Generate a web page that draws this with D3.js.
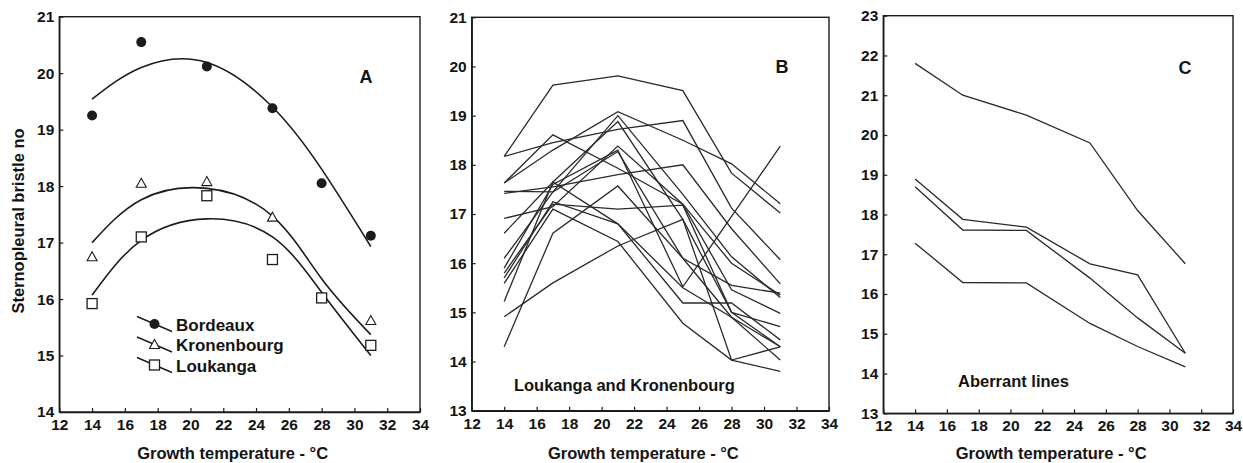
<!DOCTYPE html>
<html>
<head>
<meta charset="utf-8">
<script src="https://cdn.jsdelivr.net/npm/d3@7"></script>
<style>
  body { margin: 0; background: #fff; }
  svg text { font-family: "Liberation Sans", Arial, sans-serif; font-weight: bold; fill: #141414; }
</style>
</head>
<body>
<svg id="chart" width="1243" height="463"></svg>
<script>
// growth temperatures (°C)
const temps = [14, 17, 21, 25, 28, 31];
const xTicks = [12, 14, 16, 18, 20, 22, 24, 26, 28, 30, 32, 34];

// panel A - means per population (null = no point drawn)
const bordeaux = [19.25, 20.55, 20.12, 19.38, 18.05, 17.12];
const kronenbourg = [16.75, 18.05, 18.08, 17.45, null, 15.62];
const loukanga = [15.92, 17.1, 17.83, 16.7, 16.02, 15.18];
// fitted curves at the same temperatures
const bordeauxFit = [19.54, 20.1, 20.19, 19.4, 18.3, 16.93];
const kronenbourgFit = [17.0, 17.76, 17.96, 17.47, 16.36, 15.37];
const loukangaFit = [16.07, 17.04, 17.42, 17.1, 16.12, 15.0];

// panel B - Loukanga and Kronenbourg lines
const linesB = [
    [18.17, 19.62, 19.81, 19.51, 17.83, 17.02],
    [18.17, 18.45, 18.72, 18.9, 17.12, 16.07],
    [17.63, 18.61, 17.93, 17.2, 16.0, 15.35],
    [17.63, 18.3, 19.08, 18.5, 18.02, 17.21],
    [17.46, 17.45, 19.0, 17.4, 16.13, 15.3],
    [17.42, 17.55, 17.8, 18.0, 16.7, 15.58],
    [16.91, 17.15, 18.38, 17.2, 15.46, 14.98],
    [16.61, 17.65, 18.88, 16.89, 15.0, 14.3],
    [16.1, 17.45, 18.27, 16.1, 15.55, 15.39],
    [15.9, 17.6, 18.3, 15.52, 16.95, 18.38],
    [15.8, 17.2, 17.1, 17.18, 15.0, 14.71],
    [15.7, 17.25, 16.8, 15.19, 15.19, 14.44],
    [15.59, 17.1, 16.44, 14.78, 14.03, 13.8],
    [15.22, 17.65, 16.8, 15.5, 14.9, 14.3],
    [14.91, 15.6, 16.35, 16.89, 14.03, 14.3],
    [14.3, 16.61, 17.57, 16.1, 14.9, 14.03]
];

// panel C - aberrant lines
const linesC = [
    [21.8, 21.0, 20.5, 19.8, 18.1, 16.76],
    [18.89, 17.88, 17.68, 16.76, 16.48, 14.51],
    [18.7, 17.61, 17.6, 16.4, 15.4, 14.51],
    [17.28, 16.29, 16.28, 15.26, 14.68, 14.17]
];

const svg = d3.select("#chart");
const ink = "#1c1c1c";

function makePanel(p) {
    const x = d3.scaleLinear().domain([12, 34]).range([p.left, p.right]);
    const y = d3.scaleLinear().domain(p.ydom).range([p.bottom, p.top]);
    const g = svg.append("g");

    g.append("rect")
        .attr("x", p.left).attr("y", p.top)
        .attr("width", p.right - p.left).attr("height", p.bottom - p.top)
        .attr("fill", "none").attr("stroke", ink).attr("stroke-width", 1.4);

    const xa = g.append("g")
        .attr("transform", `translate(0, ${p.bottom})`)
        .call(d3.axisBottom(x).tickValues(xTicks).tickSizeInner(-4).tickSizeOuter(0).tickPadding(7));
    const ya = g.append("g")
        .attr("transform", `translate(${p.left}, 0)`)
        .call(d3.axisLeft(y).ticks(p.ydom[1] - p.ydom[0]).tickFormat(d3.format("d")).tickSizeInner(-4).tickSizeOuter(0).tickPadding(5));
    [xa, ya].forEach(a => {
        a.attr("font-family", null).attr("font-size", null);
        a.select(".domain").attr("stroke", ink).attr("stroke-width", 1.4);
        a.selectAll(".tick line").attr("stroke", ink).attr("stroke-width", 1.2);
        a.selectAll(".tick text").attr("fill", ink)
            .style("font-size", "15.5px")
            .style("font-family", "'Liberation Sans', Arial, sans-serif")
            .style("font-weight", "bold");
    });

    g.append("text")
        .attr("x", (p.left + p.right) / 2 - 7).attr("y", 459)
        .attr("text-anchor", "middle").attr("font-size", 16.5)
        .text("Growth temperature - °C");

    g.append("text")
        .attr("x", p.tag[0]).attr("y", p.tag[1])
        .attr("text-anchor", "middle").attr("font-size", 18)
        .text(p.label);

    return {g, x, y};
}

// ---------- panel A ----------
const A = makePanel({left: 59.3, right: 420, top: 16.7, bottom: 412, ydom: [14, 21], label: "A", tag: [366, 83]});

svg.append("text")
    .attr("transform", `translate(24, 221) rotate(-90)`)
    .attr("text-anchor", "middle").attr("font-size", 16.5)
    .text("Sternopleural bristle no");

const fitLine = d3.line()
    .x((d, i) => A.x(temps[i]))
    .y(d => A.y(d))
    .curve(d3.curveNatural);

[bordeauxFit, kronenbourgFit, loukangaFit].forEach(f => {
    A.g.append("path")
        .attr("d", fitLine(f))
        .attr("fill", "none").attr("stroke", ink).attr("stroke-width", 1.6);
});

function drawMarker(sel, kind, cx, cy) {
    if (kind == "circle") {
        sel.append("circle").attr("cx", cx).attr("cy", cy).attr("r", 5)
            .attr("fill", ink);
    } else if (kind == "triangle") {
        sel.append("path")
            .attr("d", `M${cx},${cy - 5} L${cx + 5},${cy + 4} L${cx - 5},${cy + 4} Z`)
            .attr("fill", "#fff").attr("stroke", ink).attr("stroke-width", 1.1);
    } else {
        sel.append("rect").attr("x", cx - 5).attr("y", cy - 5).attr("width", 10).attr("height", 10)
            .attr("fill", "#fff").attr("stroke", ink).attr("stroke-width", 1.3);
    }
}

const seriesA = [
    {name: "Bordeaux", kind: "circle", values: bordeaux},
    {name: "Kronenbourg", kind: "triangle", values: kronenbourg},
    {name: "Loukanga", kind: "square", values: loukanga}
];

seriesA.forEach(s => {
    s.values.forEach((v, i) => {
        if (v == null) return;
        drawMarker(A.g, s.kind, A.x(temps[i]), A.y(v));
    });
});

// legend
const legend = A.g.append("g");
seriesA.forEach((s, i) => {
    const cy = 324 + i * 20.5;
    legend.append("line")
        .attr("x1", 137).attr("y1", cy - 7.5).attr("x2", 172).attr("y2", cy + 7.5)
        .attr("stroke", ink).attr("stroke-width", 1.4);
    drawMarker(legend, s.kind, 154.5, cy);
    legend.append("text")
        .attr("x", 176).attr("y", cy + 6.5)
        .attr("font-size", 17)
        .text(s.name);
});

// ---------- panel B ----------
const B = makePanel({left: 471.7, right: 829, top: 17.3, bottom: 410.7, ydom: [13, 21], label: "B", tag: [782, 73]});

const lineB = d3.line().x((d, i) => B.x(temps[i])).y(d => B.y(d));
B.g.selectAll("path.line")
    .data(linesB)
    .join("path")
    .attr("class", "line")
    .attr("d", lineB)
    .attr("fill", "none").attr("stroke", "#2a2a2a").attr("stroke-width", 1.3);

B.g.append("text")
    .attr("x", B.x(14.6)).attr("y", B.y(13.4))
    .attr("font-size", 16.5)
    .text("Loukanga and Kronenbourg");

// ---------- panel C ----------
const C = makePanel({left: 883.3, right: 1233, top: 15.7, bottom: 413.3, ydom: [13, 23], label: "C", tag: [1185, 74]});

const lineC = d3.line().x((d, i) => C.x(temps[i])).y(d => C.y(d));
C.g.selectAll("path.line")
    .data(linesC)
    .join("path")
    .attr("class", "line")
    .attr("d", lineC)
    .attr("fill", "none").attr("stroke", "#2a2a2a").attr("stroke-width", 1.3);

C.g.append("text")
    .attr("x", C.x(16.7)).attr("y", C.y(13.66))
    .attr("font-size", 16.5)
    .text("Aberrant lines");
</script>
</body>
</html>
